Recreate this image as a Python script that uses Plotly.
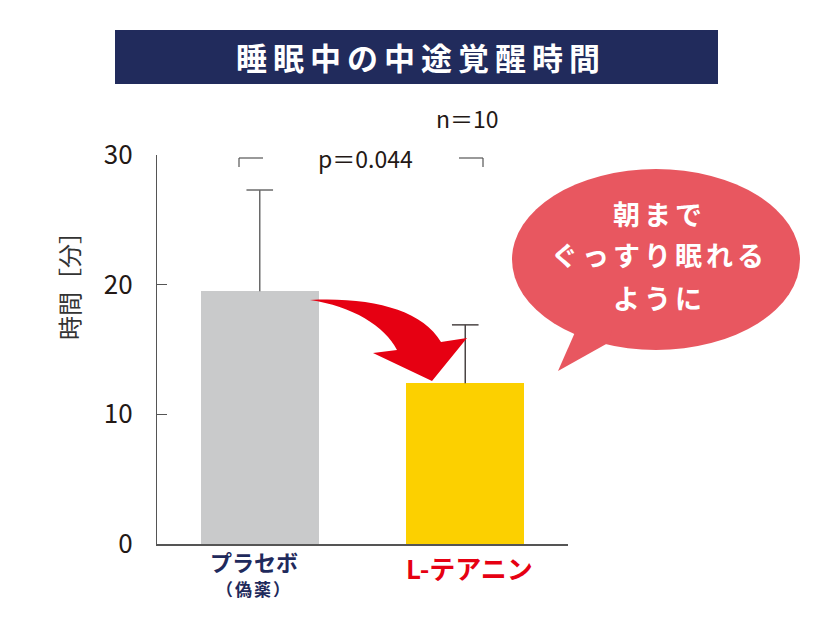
import plotly.graph_objects as go

# ---- data ----
groups = ["プラセボ", "L-テアニン"]
group_sub = ["（偽薬）", ""]
means = [19.5, 12.4]
errors = [7.8, 4.5]
bar_colors = ["#c9cacb", "#fcd000"]
err_colors = ["#6a6a6a", "#4a4444"]
label_colors = ["#1f2a5c", "#e60012"]
y_ticks = [0, 10, 20, 30]
title_text = "睡眠中の中途覚醒時間"
y_title = "時間［分］"
p_text = "p＝0.044"
n_text = "n＝10"
bubble_lines = ["朝まで", "ぐっすり眠れる", "ように"]

OFF = 8  # default page body margin
W, H = 834 - 2 * OFF, 622 - 2 * OFF
L, R, T, B = 157, 568, 155, 544  # plot area in page pixels
FONT = "Noto Sans CJK JP"


def px(x):
    return (x - L) / (R - L)


def py(y):
    return (B - y) / (B - T)


fig = go.Figure()
for i in range(len(groups)):
    fig.add_trace(go.Bar(
        x=[i], y=[means[i]], width=0.575,
        marker=dict(color=bar_colors[i], line=dict(width=0)),
        showlegend=False, hoverinfo="skip",
    ))
# error bars (upper only)
for i in range(len(groups)):
    top = means[i] + errors[i]
    fig.add_trace(go.Scatter(
        x=[i, i], y=[means[i], top], mode="lines",
        line=dict(color=err_colors[i], width=1.5),
        showlegend=False, hoverinfo="skip",
    ))
    fig.add_trace(go.Scatter(
        x=[i], y=[top], mode="markers",
        marker=dict(symbol="line-ew", size=19,
                    line=dict(color=err_colors[i], width=1.5)),
        showlegend=False, hoverinfo="skip",
    ))

shapes = []
# title box
shapes.append(dict(type="rect", xref="paper", yref="paper",
                   x0=px(115), x1=px(718), y0=py(84), y1=py(30),
                   fillcolor="#212b5c", line=dict(width=0), layer="below"))
# significance brackets
br = "#555555"
for xa, xb, xd in [(239, 263, 239), (459, 483, 483)]:
    shapes.append(dict(type="line", xref="paper", yref="paper",
                       x0=px(xa), x1=px(xb), y0=py(158), y1=py(158),
                       line=dict(color=br, width=1.2)))
    shapes.append(dict(type="line", xref="paper", yref="paper",
                       x0=px(xd), x1=px(xd), y0=py(158), y1=py(167),
                       line=dict(color=br, width=1.2)))


def path(pts_cmds):
    out = []
    for cmd, pts in pts_cmds:
        coords = " ".join(f"{px(x):.5f},{py(y):.5f}" for x, y in pts)
        out.append(f"{cmd} {coords}")
    return " ".join(out) + " Z"


# red curved arrow
arrow = path([
    ("M", [(310, 300)]),
    ("C", [(372, 297), (422, 310), (441, 342)]),
    ("L", [(467, 338)]),
    ("L", [(432, 381)]),
    ("L", [(373, 353)]),
    ("L", [(397, 350)]),
    ("C", [(385, 326), (352, 306), (310, 300)]),
])
shapes.append(dict(type="path", xref="paper", yref="paper", path=arrow,
                   fillcolor="#e60012", line=dict(width=0)))

# speech bubble
bub = "#e85760"
shapes.append(dict(type="circle", xref="paper", yref="paper",
                   x0=px(512), x1=px(800), y0=py(350), y1=py(169),
                   fillcolor=bub, line=dict(width=0)))
tail = path([("M", [(576, 330)]), ("L", [(558, 371)]), ("L", [(608, 343)]), ("L", [(612, 330)])])
shapes.append(dict(type="path", xref="paper", yref="paper", path=tail,
                   fillcolor=bub, line=dict(width=0)))

ann = []
ann.append(dict(text=f"<b><span style='letter-spacing:6px'>{title_text}</span></b>",
                xref="paper", yref="paper", x=px(421), y=py(57),
                showarrow=False, font=dict(family=FONT, size=31, color="white"),
                xanchor="center", yanchor="middle"))
ann.append(dict(text=y_title, xref="paper", yref="paper", x=px(68), y=py(280),
                textangle=-90, showarrow=False,
                font=dict(family=FONT, size=24, color="#333333"),
                xanchor="center", yanchor="middle"))
ann.append(dict(text=p_text, xref="paper", yref="paper", x=px(365), y=py(158),
                showarrow=False, font=dict(family=FONT, size=23, color="#231815"),
                xanchor="center", yanchor="middle"))
ann.append(dict(text=n_text, xref="paper", yref="paper", x=px(467), y=py(118),
                showarrow=False, font=dict(family=FONT, size=23, color="#231815"),
                xanchor="center", yanchor="middle"))
# category labels
ann.append(dict(text=f"<b>{groups[0]}</b>", xref="x", yref="paper", x=0, y=py(561),
                xshift=-6, showarrow=False, borderpad=0,
                font=dict(family=FONT, size=22, color=label_colors[0]),
                xanchor="center", yanchor="middle"))
ann.append(dict(text=f"<b><span style='letter-spacing:2px'>{group_sub[0]}</span></b>",
                xref="x", yref="paper", x=0, y=py(588),
                xshift=-6, showarrow=False, borderpad=0,
                font=dict(family=FONT, size=17, color=label_colors[0]),
                xanchor="center", yanchor="middle"))
ann.append(dict(text=f"<b>{groups[1]}</b>", xref="x", yref="paper", x=1, y=py(567),
                xshift=4, showarrow=False,
                font=dict(family=FONT, size=26, color=label_colors[1]),
                xanchor="center", yanchor="middle"))
# bubble text
for line, yy in zip(bubble_lines, [213, 254, 297]):
    ann.append(dict(text=f"<b><span style='letter-spacing:4px'>{line}</span></b>",
                    xref="paper", yref="paper", x=px(659), y=py(yy),
                    showarrow=False, font=dict(family=FONT, size=27, color="white"),
                    xanchor="center", yanchor="middle"))

fig.update_layout(
    width=W, height=H,
    margin=dict(l=L - OFF, r=(W + OFF) - R, t=T - OFF, b=(H + OFF) - B, pad=0),
    paper_bgcolor="white", plot_bgcolor="white",
    shapes=shapes, annotations=ann,
    xaxis=dict(range=[-0.5, 1.5], showgrid=False, zeroline=False,
               showticklabels=False, ticks="", showline=True,
               linecolor="#555555", linewidth=1.5, fixedrange=True),
    yaxis=dict(range=[0, 30], tickvals=y_ticks, showgrid=False, zeroline=False,
               showline=True, linecolor="#555555", linewidth=1.2,
               ticks="inside", ticklen=10, tickcolor="#555555", tickwidth=1.2,
               ticklabelstandoff=18,
               tickfont=dict(family=FONT, size=26, color="#231815"),
               fixedrange=True),
    bargap=0,
)

fig.write_html("out.html")
